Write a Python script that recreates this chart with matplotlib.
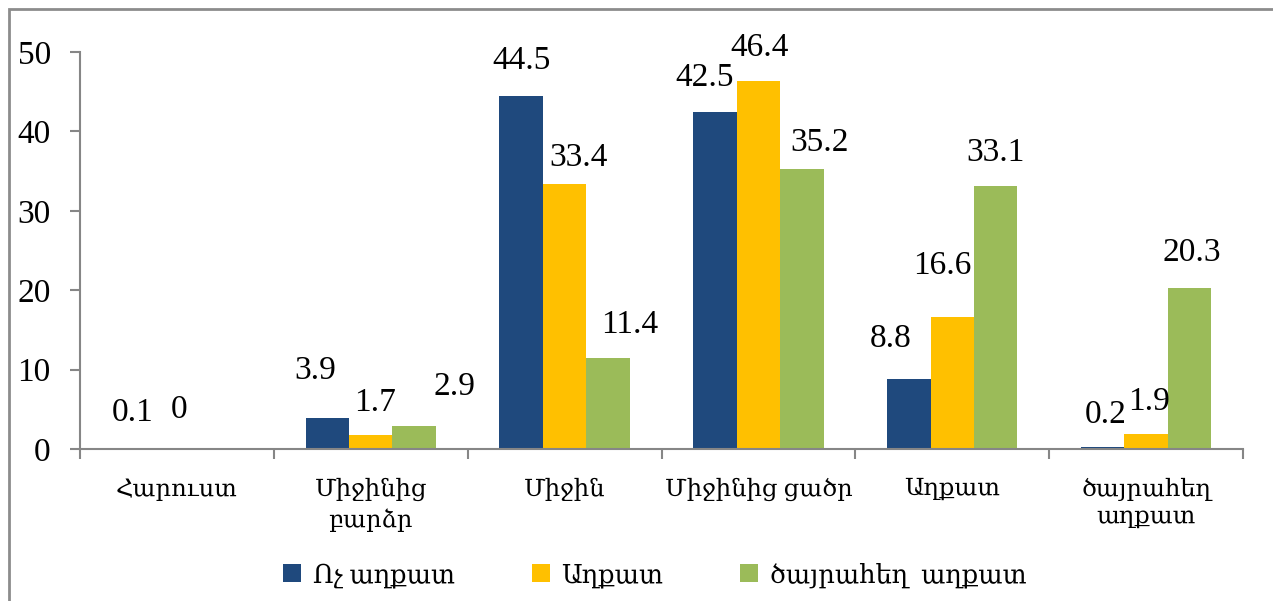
import numpy as np
import matplotlib.pyplot as plt
from matplotlib.patches import Rectangle

# categories and series values
categories = ["Հարուստ", "Միջինից\nբարձր", "Միջին", "Միջինից ցածր", "Աղքատ", "ծայրահեղ\nաղքատ"]
not_poor = [0.1, 3.9, 44.5, 42.5, 8.8, 0.2]
poor = [0.0, 1.7, 33.4, 46.4, 16.6, 1.9]
extreme_poor = [np.nan, 2.9, 11.4, 35.2, 33.1, 20.3]
series_names = ["Ոչ աղքատ", "Աղքատ", "ծայրահեղ  աղքատ"]
colors = ["#1F497D", "#FFC000", "#9BBB59"]

# hand-moved label nudges (pixels, dx / dy of label centre above bar top)
label_dx = [[-1, -12, 0, -10, -18, 3],
            [2, 4, 14, 1, -10, 3],
            [0, 40, 22, 18, 0, 2]]
label_dy = [[35, 47, 35, 34, 40, 33],
            [39, 33, 26, 33, 51, 32],
            [0, 39, 34, 27, 33, 35]]

plt.rcParams['font.family'] = ['Liberation Serif', 'DejaVu Serif']
axis_grey = "#868686"

fig = plt.figure(figsize=(12.73, 6.01), dpi=100)
ax = fig.add_axes([0.0628, 0.253, 0.9137, 0.6605])

# outer chart border (only top/left visible in the reference)
fig.patches.append(Rectangle((8.5 / 1273, -0.1), 1.2, 1 - 8.5 / 601 + 0.1,
                             transform=fig.transFigure, fill=False,
                             edgecolor="#8C8C8C", linewidth=2))

x = np.arange(len(categories))
width = 0.224
series = [not_poor, poor, extreme_poor]
for i, (vals, name, col) in enumerate(zip(series, series_names, colors)):
    pos = x + (i - 1) * width
    ax.bar(pos, vals, width, color=col, label=name)
    for j, (p, v) in enumerate(zip(pos, vals)):
        if np.isnan(v):
            continue
        ax.annotate(f"{v:g}", (p, v), xytext=(label_dx[i][j], label_dy[i][j]),
                    textcoords="offset pixels", ha="center", va="center", fontsize=24)

ax.set_xlim(-0.5, len(categories) - 0.5)
ax.set_ylim(0, 50)
ax.set_yticks([0, 10, 20, 30, 40, 50])
ax.tick_params(axis="y", labelsize=24, length=7, width=1.5, color=axis_grey, pad=14)

# category labels centred, tick marks at category borders
ax.set_xticks(x)
ax.set_xticklabels(categories, fontsize=17.5, linespacing=1.35)
ax.tick_params(axis="x", length=0, pad=21)
ax.set_xticks(np.arange(-0.5, len(categories)), minor=True)
ax.tick_params(axis="x", which="minor", length=7, width=1.5, color=axis_grey)

for side in ["top", "right"]:
    ax.spines[side].set_visible(False)
for side in ["left", "bottom"]:
    ax.spines[side].set_color(axis_grey)
    ax.spines[side].set_linewidth(1.5)

fig.legend(loc="center left", bbox_to_anchor=(283 / 1273, 1 - 575 / 601), ncol=3,
           frameon=False, fontsize=18.5, handlelength=0.7, handleheight=0.7,
           handletextpad=0.45, columnspacing=3.0, borderpad=0, borderaxespad=0)

fig.savefig("out.png", dpi=100)
